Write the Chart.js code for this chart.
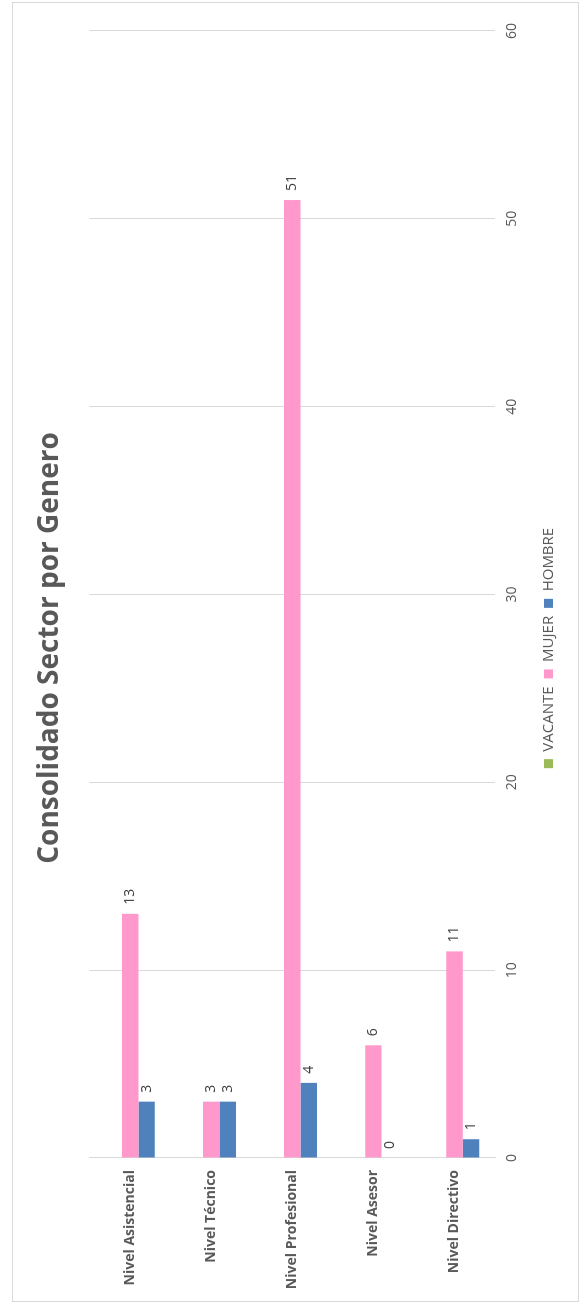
<!DOCTYPE html>
<html>
<head>
<meta charset="utf-8">
<script src="https://cdn.jsdelivr.net/npm/chart.js@4"></script>
<style>
  html, body { margin: 0; padding: 0; background: #fff; }
  body { width: 581px; height: 1303px; position: relative; overflow: hidden; }
  #giro {
    position: absolute; left: 0; top: 0;
    width: 1303px; height: 581px;
    transform-origin: 0 0;
    transform: translateY(1303px) rotate(-90deg);
  }
</style>
</head>
<body>
<div id="giro"><canvas id="chartGenero" width="1303" height="581"></canvas></div>
<script>
const niveles = ['Nivel Asistencial', 'Nivel Técnico', 'Nivel Profesional', 'Nivel Asesor', 'Nivel Directivo'];
const vacante = [null, null, null, null, null];
const mujer = [13, 3, 51, 6, 11];
const hombre = [3, 3, 4, 0, 1];
const marcasEje = [0, 10, 20, 30, 40, 50, 60];

const fuente = '"Open Sans", "Liberation Sans", sans-serif';

// marco gris y fondo blanco
const marco = {
  id: 'marco',
  beforeDraw(chart) {
    const ctx = chart.ctx;
    ctx.save();
    ctx.fillStyle = '#fff';
    ctx.fillRect(0, 0, chart.width, chart.height);
    ctx.strokeStyle = '#d9d9d9';
    ctx.lineWidth = 1;
    ctx.strokeRect(1.5, 12.5, 1299, 566);
    ctx.restore();
  }
};

// el eje de categorias ocupa tambien el margen izquierdo, asi no se recortan los nombres
const ejeAncho = {
  id: 'ejeAncho',
  afterLayout(chart) {
    const y = chart.scales.y;
    y.left = 0;
    y.width = y.right;
  }
};

// etiquetas de valor al final de cada barra
const etiquetas = {
  id: 'etiquetas',
  afterDatasetsDraw(chart) {
    const ctx = chart.ctx;
    ctx.save();
    ctx.font = '14px ' + fuente;
    ctx.fillStyle = '#404040';
    ctx.textAlign = 'left';
    ctx.textBaseline = 'middle';
    chart.data.datasets.forEach((ds, i) => {
      chart.getDatasetMeta(i).data.forEach((bar, j) => {
        const v = ds.data[j];
        if (v === null || v === undefined) return;
        ctx.fillText(String(v), bar.x + 9, bar.y);
      });
    });
    ctx.restore();
  }
};

const ctx = document.getElementById('chartGenero').getContext('2d');

const chartGenero = new Chart(ctx, {
  type: 'bar',
  data: {
    labels: niveles,
    datasets: [
      { label: 'VACANTE', data: vacante, backgroundColor: '#9bbb59' },
      { label: 'MUJER', data: mujer, backgroundColor: '#ff99cc' },
      { label: 'HOMBRE', data: hombre, backgroundColor: '#4f81bd' }
    ]
  },
  options: {
    indexAxis: 'y',
    responsive: false,
    animation: false,
    categoryPercentage: 0.61,
    barPercentage: 1,
    layout: { padding: { left: 38, right: 31, top: 0, bottom: 15 } },
    scales: {
      x: {
        min: 0,
        max: 60,
        afterBuildTicks(scale) {
          scale.ticks = marcasEje.map(v => ({ value: v }));
        },
        afterFit(scale) { scale.height = 38; },
        grid: { color: '#d9d9d9', drawTicks: false },
        border: { display: false },
        ticks: { color: '#595959', font: { size: 14, family: fuente }, padding: 9 }
      },
      y: {
        afterFit(scale) { scale.width = 107; },
        grid: { display: false, drawTicks: false },
        border: { color: '#d9d9d9' },
        ticks: { color: '#595959', font: { size: 14, weight: 'bold', family: fuente }, padding: 12 }
      }
    },
    plugins: {
      title: {
        display: true,
        text: 'Consolidado Sector por Genero',
        color: '#595959',
        font: { size: 28, weight: 'bold', family: fuente },
        padding: { top: 33, bottom: 23 }
      },
      legend: {
        position: 'bottom',
        labels: {
          color: '#595959',
          font: { size: 15, family: fuente },
          boxWidth: 9,
          boxHeight: 9,
          padding: 8
        }
      },
      tooltip: { enabled: false }
    }
  },
  plugins: [marco, ejeAncho, etiquetas]
});
</script>
</body>
</html>
